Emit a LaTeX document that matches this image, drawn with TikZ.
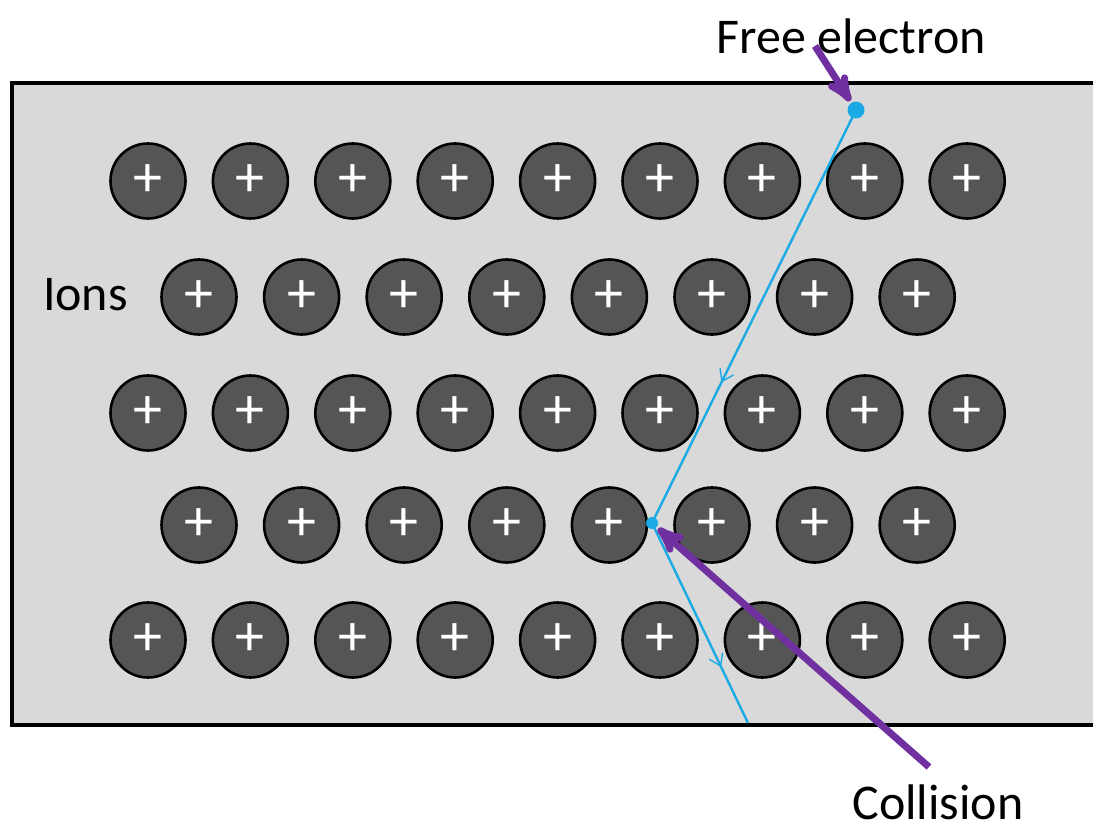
\documentclass[tikz,border=0pt]{standalone}
\usepackage{fontspec}
\setmainfont{Carlito}
\usepackage{tikz}
\usetikzlibrary{arrows,arrows.meta,positioning,decorations.markings}
\definecolor{metal}{RGB}{217,217,217}
\definecolor{iongray}{RGB}{85,85,85}
\definecolor{pathblue}{RGB}{28,170,228}
\definecolor{pointer}{RGB}{112,48,160}
\tikzstyle{ion} = [circle, draw=black, line width=2.6pt, fill=iongray, minimum size=75pt, inner sep=0pt, text=white, font=\fontsize{58}{58}\selectfont]
\tikzstyle{electron} = [circle, fill=pathblue, minimum size=17pt, inner sep=0pt]
\tikzstyle{track} = [draw=pathblue, line width=2.4pt, postaction={decorate}]
\tikzset{barb/.tip={Straight Barb[length=11pt, width=15pt, line width=1.4pt]}}
\tikzstyle{pointer} = [draw=pointer, line width=7pt, -stealth', shorten >=2pt]
\tikzstyle{label} = [font=\fontsize{50}{54}\selectfont, inner sep=0pt]

\begin{document}
\begin{tikzpicture}[x=1pt,y=-1pt]

  \useasboundingbox (0,0) rectangle (1093,830);

  % the metal piece
  \fill[metal] (12,83) rectangle (1093,725);
  \draw[line width=4.5pt] (1093,83) -- (12,83) -- (12,725) -- (1093,725);

  % lattice of ions, rows 1,3,5 have nine, rows 2,4 eight
  \foreach \r/\y in {1/181,3/413,5/640}
    \foreach \c in {1,...,9}
      \node[ion] (ion-\r-\c) at ({148+102.4*(\c-1)},\y) {+};
  \foreach \r/\y in {2/297,4/525}
    \foreach \c in {1,...,8}
      \node[ion] (ion-\r-\c) at ({199+102.6*(\c-1)},\y) {+};

  \node[label, anchor=east] (ionlabel) at (128,295) {Ions};

  % electron path
  \node[electron] (free) at (856,110) {};
  \node[electron, minimum size=12pt] (hit) at (652,523) {};
  \coordinate (exit) at (748,723);
  \path[track, decoration={markings, mark=at position 0.66 with {\arrow[pathblue]{barb}}}]
    (free.center) -- (hit.center);
  \path[track, decoration={markings, mark=at position 0.72 with {\arrow[pathblue]{barb}}}]
    (hit.center) -- (exit);

  % labels and pointers
  \node[label] (freelabel) at (851,36) {Free electron};
  \node[label, anchor=base, text depth=0pt] (collabel) at (938,819) {Collision};
  \coordinate (freetail) at (815,46);
  \coordinate (coltail) at (929,767);
  \path[pointer] (freetail) -- (free);
  \path[pointer] (coltail) -- (hit);

\end{tikzpicture}
\end{document}
